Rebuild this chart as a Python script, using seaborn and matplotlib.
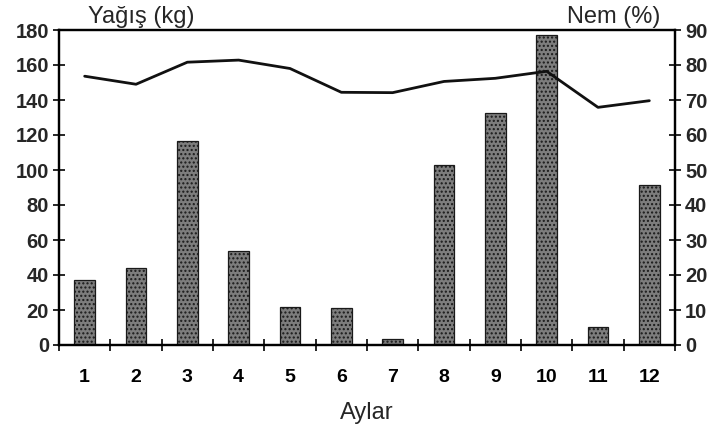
import numpy as np
import pandas as pd
import matplotlib
matplotlib.use("Agg")
import matplotlib.pyplot as plt
import seaborn as sns
from matplotlib.ticker import MultipleLocator, FixedLocator

months = ["1", "2", "3", "4", "5", "6", "7", "8", "9", "10", "11", "12"]
rain = [37, 44, 116.5, 53.5, 22, 21, 3.5, 103, 132.5, 177, 10.5, 91.5]
humidity = [76.8, 74.5, 80.8, 81.4, 79.0, 72.2, 72.1, 75.3, 76.2, 78.2, 67.9, 69.8]

sns.set_style("white")
plt.rcParams["font.family"] = ["Liberation Sans", "DejaVu Sans"]

fig = plt.figure(figsize=(7.19, 4.41), dpi=100)
ax = fig.add_axes([59/719, 1-345/441, (675-59)/719, (345-30)/441])

df = pd.DataFrame({"Ay": months, "Yagis": rain})
sns.barplot(data=df, x="Ay", y="Yagis", ax=ax, color="#7d7d7d", width=0.40,
            edgecolor="#1a1a1a", linewidth=0.9, saturation=1)
for p in ax.patches:
    p.set_hatch("....")

ax.set_xlim(-0.5, 11.5)
ax.set_ylim(0, 180)
ax.yaxis.set_major_locator(MultipleLocator(20))
ax.set_xlabel("Aylar", fontsize=17, labelpad=12)
ax.set_ylabel("")

ax2 = ax.twinx()
pos = np.arange(len(months))
sns.lineplot(x=pos, y=humidity, ax=ax2, color="#111111", linewidth=2.0)
ax2.set_ylim(0, 90)
ax2.yaxis.set_major_locator(MultipleLocator(10))
ax2.set_xlim(-0.5, 11.5)

for a in (ax, ax2):
    for s in a.spines.values():
        s.set_visible(True)
        s.set_color("black")
        s.set_linewidth(1.6)

ax.xaxis.set_minor_locator(FixedLocator(np.arange(-0.5, 12, 1)))
ax.tick_params(axis="x", which="major", length=0, pad=17, labelsize=14, colors="black")
ax.tick_params(axis="x", which="minor", direction="inout", length=8, width=1.4, bottom=True)
ax.tick_params(axis="y", which="major", direction="inout", length=8.5, width=1.4, pad=3,
               labelsize=14.5, left=True)
ax2.tick_params(axis="y", which="major", direction="inout", length=8.5, width=1.4, pad=3,
                labelsize=14.5, right=True)
ax2.set_ylabel("")
for lbl in ax.get_xticklabels() + ax.get_yticklabels() + ax2.get_yticklabels():
    lbl.set_fontweight("bold")

fig.text(88/719, 1-23/441, "Yağış (kg)", fontsize=17, ha="left", va="baseline")
fig.text(660/719, 1-23/441, "Nem (%)", fontsize=17, ha="right", va="baseline")

fig.savefig("out.png", dpi=100)
